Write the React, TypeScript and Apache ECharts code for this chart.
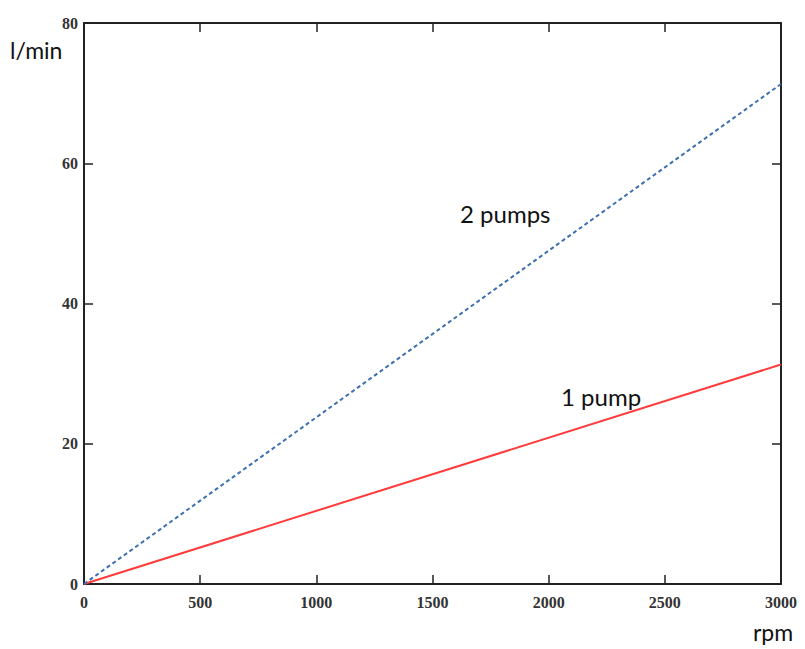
import React, { useEffect, useRef } from "react";
import * as echarts from "echarts";

const rpm = [0, 3000];
const onePump = [0, 31.3];
const twoPumps = [0, 71.3];
const xTicks = { min: 0, max: 3000, interval: 500 };
const yTicks = { min: 0, max: 80, interval: 20 };
const seriesNames = ["1 pump", "2 pumps"];

export default function App() {
  const ref = useRef<HTMLDivElement>(null);
  useEffect(() => {
    if (!ref.current) return;
    const chart = echarts.init(ref.current, undefined, { renderer: "svg" });
    const labelFont = {
      fontFamily: "Liberation Serif",
      fontWeight: "bold" as const,
      fontSize: 16,
      color: "#333",
      formatter: (v: number) => String(v),
    };
    const baseAxisLine = { show: true, onZero: false, lineStyle: { color: "#222", width: 2 } };
    const tick = { show: true, inside: true, length: 9, lineStyle: { color: "#222", width: 1.5 } };
    chart.setOption({
      animation: false,
      backgroundColor: "#fff",
      grid: { left: 84, right: 24, top: 23, bottom: 65, containLabel: false },
      xAxis: [
        {
          type: "value", ...xTicks, position: "bottom",
          axisLine: baseAxisLine, axisTick: tick,
          axisLabel: { ...labelFont, margin: 10 },
          splitLine: { show: false },
        },
        {
          type: "value", ...xTicks, position: "top",
          axisLine: baseAxisLine, axisTick: tick,
          axisLabel: { show: false },
          splitLine: { show: false },
        },
      ],
      yAxis: [
        {
          type: "value", ...yTicks, position: "left",
          axisLine: baseAxisLine, axisTick: tick,
          axisLabel: { ...labelFont, margin: 6 },
          splitLine: { show: false },
        },
        {
          type: "value", ...yTicks, position: "right",
          axisLine: baseAxisLine, axisTick: tick,
          axisLabel: { show: false },
          splitLine: { show: false },
        },
      ],
      series: [
        {
          name: seriesNames[0], type: "line", showSymbol: false,
          data: rpm.map((x, i) => [x, onePump[i]]),
          lineStyle: { color: "#ff3b3b", width: 2 },
        },
        {
          name: seriesNames[1], type: "line", showSymbol: false,
          data: rpm.map((x, i) => [x, twoPumps[i]]),
          lineStyle: { color: "#3d6fb0", width: 2, type: [4, 3] },
        },
      ],
      graphic: [
        { type: "text", left: 10, top: 38, style: { text: "l/min", font: "23px Lato", fill: "#111" } },
        { type: "text", left: 753, top: 620, style: { text: "rpm", font: "23px Lato", fill: "#111" } },
        { type: "text", left: 460, top: 201, style: { text: seriesNames[1], font: "24px Lato", fill: "#111" } },
        { type: "text", left: 561, top: 384, style: { text: seriesNames[0], font: "24px Lato", fill: "#111" } },
      ],
    });
    return () => chart.dispose();
  }, []);
  return <div ref={ref} style={{ position: "fixed", left: 0, top: 0, width: 805, height: 649 }} />;
}
